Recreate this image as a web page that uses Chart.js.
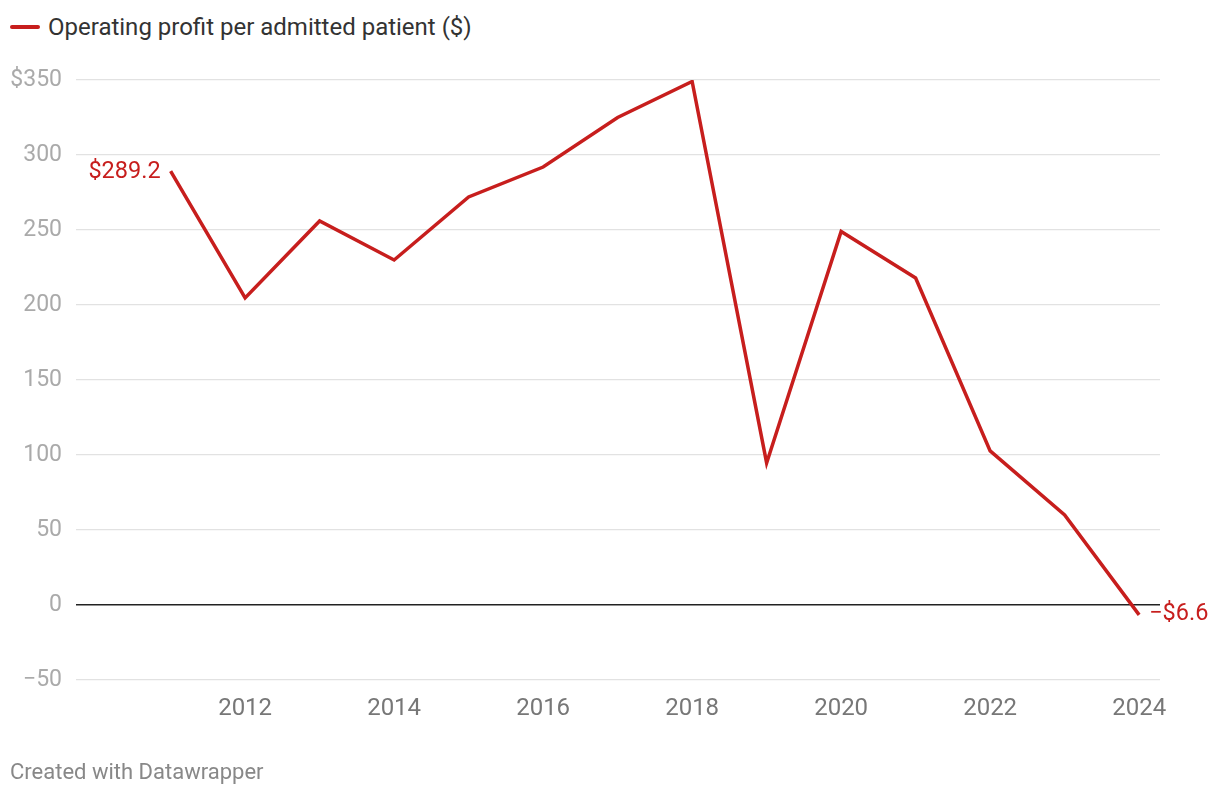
<!DOCTYPE html>
<html>
<head>
<meta charset="utf-8">
<script src="https://cdn.jsdelivr.net/npm/chart.js@4"></script>
<style>
   html, body { margin: 0; padding: 0; background: #fff; }
   body { width: 1220px; height: 796px; position: relative; overflow: hidden; font-family: Roboto, sans-serif; }
   #legende { position: absolute; left: 10px; top: 13px; font-size: 24px; color: #333; display: flex; align-items: center; }
   #legende span.trait { display: inline-block; width: 30px; height: 4px; background: #c71e1d; margin-right: 8px; border-radius: 2px; }
   #pied { position: absolute; left: 10px; top: 759px; font-size: 22px; color: #888; }
   #zone { position: absolute; left: 0; top: 0; width: 1220px; height: 796px; }
</style>
</head>
<body>
<div id="legende"><span class="trait"></span>Operating profit per admitted patient ($)</div>
<div id="zone"><canvas id="graphique"></canvas></div>
<div id="pied">Created with Datawrapper</div>

<script>
const annees = [2011, 2012, 2013, 2014, 2015, 2016, 2017, 2018, 2019, 2020, 2021, 2022, 2023, 2024];
const profitParPatient = [289.2, 204.7, 256, 230, 272, 292, 325, 349, 94.7, 249, 218, 102.7, 60, -6.6];
const graduationsX = [2012, 2014, 2016, 2018, 2020, 2022, 2024];
const graduationsY = [-50, 0, 50, 100, 150, 200, 250, 300, 350];

const rouge = '#c71e1d';

function formatDollar(v) {
   const signe = v < 0 ? '\u2212' : '';
   return signe + '$' + Math.abs(v).toFixed(1);
}

// Etiquettes du premier et du dernier point
const etiquettesPlugin = {
   id: 'etiquettes',
   afterDatasetsDraw(chart) {
      const meta = chart.getDatasetMeta(0);
      const ctx = chart.ctx;
      const premier = meta.data[0];
      const dernier = meta.data[meta.data.length - 1];
      ctx.save();
      ctx.font = '23.5px Roboto';
      ctx.fillStyle = rouge;
      ctx.textBaseline = 'middle';
      ctx.textAlign = 'right';
      ctx.fillText(formatDollar(profitParPatient[0]), premier.x - 10, premier.y + 1);
      ctx.textAlign = 'left';
      ctx.fillText(formatDollar(profitParPatient[profitParPatient.length - 1]), dernier.x + 10, dernier.y - 1);
      ctx.restore();
   }
};

new Chart(
   document.getElementById('graphique'),
   {
      type: 'line',
      data: {
         datasets: [
            {
               label: 'Operating profit per admitted patient ($)',
               data: annees.map((a, i) => ({x: a, y: profitParPatient[i]})),
               borderColor: rouge,
               borderWidth: 3.5,
               pointRadius: 0,
               tension: 0,
               fill: false
            }
         ]
      },
      options: {
         responsive: true,
         maintainAspectRatio: false,
         animation: false,
         layout: {
            padding: {left: 0, right: 60, top: 80, bottom: 76}
         },
         plugins: {
            legend: {display: false},
            tooltip: {enabled: false}
         },
         scales: {
            x: {
               type: 'linear',
               min: 2009.73,
               max: 2024.28,
               afterBuildTicks: function(scale) {
                  scale.ticks = graduationsX.map(v => ({value: v}));
               },
               afterFit: function(scale) { scale.height = 40; },
               ticks: {
                  color: '#777',
                  padding: 15,
                  font: {family: 'Roboto', size: 24},
                  maxRotation: 0,
                  autoSkip: false,
                  callback: function(v) { return String(v); }
               },
               grid: {display: false, drawTicks: false},
               border: {display: false}
            },
            y: {
               min: -50,
               max: 350,
               afterBuildTicks: function(scale) {
                  scale.ticks = graduationsY.map(v => ({value: v}));
               },
               afterFit: function(scale) { scale.width = 76; },
               ticks: {
                  color: '#aaa',
                  padding: 14,
                  font: {family: 'Roboto', size: 23},
                  callback: function(v) {
                     if (v === 350) return '$350';
                     return v < 0 ? '\u2212' + Math.abs(v) : String(v);
                  }
               },
               grid: {
                  drawTicks: false,
                  lineWidth: function(c) { return c.tick && c.tick.value === 0 ? 1.5 : 1.2; },
                  color: function(c) { return c.tick && c.tick.value === 0 ? '#222' : '#e2e2e2'; }
               },
               border: {display: false}
            }
         }
      },
      plugins: [etiquettesPlugin]
   }
);
</script>
</body>
</html>
